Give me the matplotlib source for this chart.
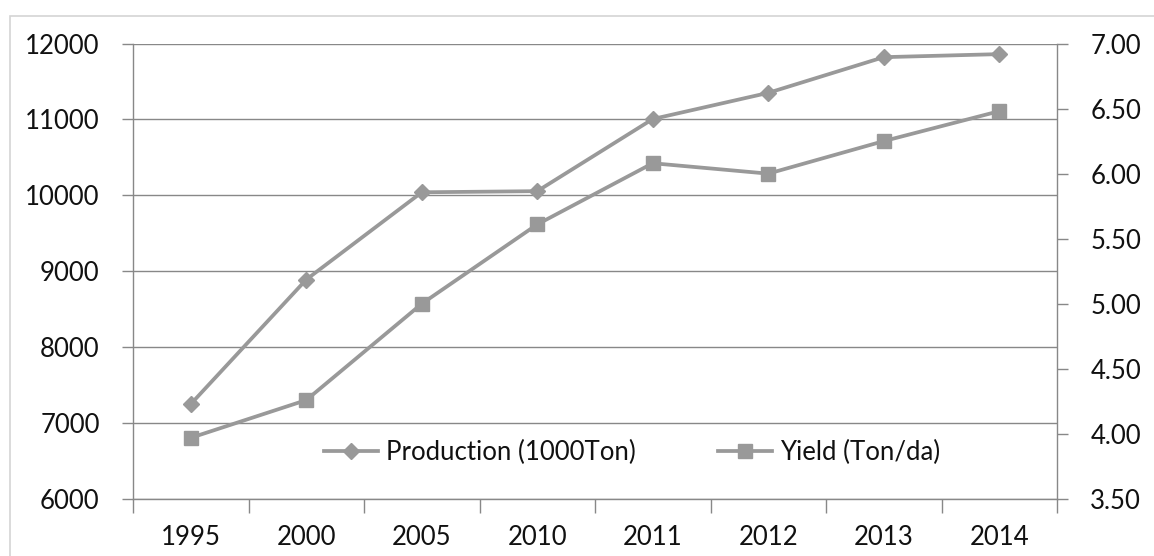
import matplotlib
matplotlib.use('Agg')
import matplotlib.pyplot as plt
from matplotlib.lines import Line2D
from matplotlib.patches import Rectangle
from matplotlib.ticker import FixedLocator, FormatStrFormatter

# 연도별 생산량(1000톤)과 단수(톤/da)
years = ['1995', '2000', '2005', '2010', '2011', '2012', '2013', '2014']
production = [7250, 8890, 10040, 10055, 11005, 11350, 11820, 11860]
yield_ton_da = [3.97, 4.26, 5.00, 5.61, 6.08, 6.00, 6.25, 6.48]

plt.rcParams['font.family'] = ['Lato', 'DejaVu Sans']
plt.rcParams['font.size'] = 18.5
plt.rcParams['text.color'] = '#111111'
plt.rcParams['xtick.labelcolor'] = '#111111'
plt.rcParams['ytick.labelcolor'] = '#111111'

line_color = '#999999'
axis_color = '#888888'

fig = plt.figure(figsize=(11.54, 5.56), dpi=100)
fig.patch.set_facecolor('white')

# 바깥 차트 영역 테두리
fig.patches.append(Rectangle((10 / 1154, -0.1), 1.2, 1 - 16 / 556 + 0.1,
                             transform=fig.transFigure, fill=False,
                             edgecolor='#d4d4d4', linewidth=1.2))

ax = fig.add_axes([133 / 1154, 1 - 499 / 556, 924 / 1154, 455.5 / 556])
ax2 = ax.twinx()

x = list(range(len(years)))

ax.plot(x, production, color=line_color, linewidth=2.7, marker='D',
        markersize=8.5, zorder=3)
ax2.plot(x, yield_ton_da, color=line_color, linewidth=2.7, marker='s',
         markersize=10, zorder=3)

# 왼쪽 축 (생산량)
ax.set_ylim(6000, 12000)
ax.set_yticks(range(6000, 12001, 1000))
ax.grid(axis='y', color=axis_color, linewidth=1.0)
ax.set_axisbelow(True)

# 오른쪽 축 (단수)
ax2.set_ylim(3.5, 7.0)
ax2.set_yticks([3.5 + 0.5 * i for i in range(8)])
ax2.yaxis.set_major_formatter(FormatStrFormatter('%.2f'))

# x축: 라벨은 가운데, 눈금은 구간 경계
ax.set_xlim(-0.5, len(years) - 0.5)
ax.set_xticks(x)
ax.set_xticklabels(years)
ax.xaxis.set_minor_locator(FixedLocator([i - 0.5 for i in range(len(years) + 1)]))
ax.tick_params(axis='x', which='major', length=0, pad=19)
ax.tick_params(axis='x', which='minor', length=10, width=1.0, color=axis_color)
ax.tick_params(axis='y', length=8, width=1.0, color=axis_color, pad=16)
ax2.tick_params(axis='y', length=8, width=1.0, color=axis_color, pad=16)

for a in (ax, ax2):
    a.spines['top'].set_visible(False)
    for s in ('left', 'right', 'bottom'):
        a.spines[s].set_color(axis_color)
        a.spines[s].set_linewidth(1.0)
ax.spines['right'].set_visible(False)
ax2.spines['left'].set_visible(False)
ax2.spines['bottom'].set_visible(False)

handles = [
    Line2D([], [], color=line_color, linewidth=2.7, marker='D', markersize=8.5),
    Line2D([], [], color=line_color, linewidth=2.7, marker='s', markersize=10),
]
ax2.legend(handles, ['Production (1000Ton)', 'Yield (Ton/da)'],
           loc='center', bbox_to_anchor=(0.54, 0.103), ncol=2, frameon=False,
           handlelength=2.1, handletextpad=0.3, columnspacing=3.2,
           borderaxespad=0, fontsize=18.5)

fig.savefig('out.png', dpi=100)
